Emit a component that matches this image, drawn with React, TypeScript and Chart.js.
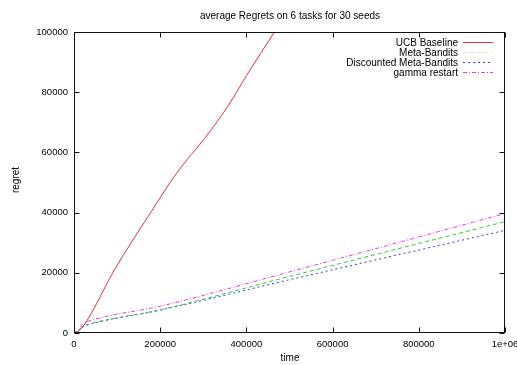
import React, { useEffect, useRef } from "react";
import { Chart, registerables } from "chart.js";

Chart.register(...registerables);

const TITLE = "average Regrets on 6 tasks for 30 seeds";
const X_TITLE = "time";
const Y_TITLE = "regret";

const X_TICKS = [0, 200000, 400000, 600000, 800000, 1000000];
const Y_TICKS = [0, 20000, 40000, 60000, 80000, 100000];

const SERIES_NAMES = ["UCB Baseline", "Meta-Bandits", "Discounted Meta-Bandits", "gamma restart"];

const UCB_T = [0, 10000, 20000, 40000, 90000, 180000, 240000, 305000, 360000, 400000, 465000, 480000];
const UCB_R = [0, 500, 2000, 6500, 20000, 40500, 53500, 65000, 76000, 85500, 100000, 103500];

const META_T = [0, 10000, 20000, 40000, 200000, 500000, 1000000];
const META_R = [0, 800, 2200, 3200, 7700, 18800, 37000];

const DISC_T = [0, 10000, 20000, 40000, 200000, 500000, 1000000];
const DISC_R = [0, 700, 2000, 3000, 7600, 17700, 34100];

const GAMMA_T = [0, 10000, 20000, 40000, 200000, 500000, 1000000];
const GAMMA_R = [0, 1000, 3000, 4200, 8900, 20300, 39700];

const COLORS = ["#e8303a", "#33cc33", "#3a3ae8", "#e040e0"];
const DASHES: number[][] = [[], [4, 3], [2, 3], [4, 2, 1, 2]];

const FONT = '"Liberation Sans", Arial, sans-serif';

function pts(t: number[], r: number[]) {
  return t.map((v, i) => ({ x: v, y: r[i] }));
}

const decoPlugin = {
  id: "deco",
  afterDraw(chart: any) {
    const { ctx, chartArea, scales } = chart;
    const { left, right, top, bottom } = chartArea;
    const x = scales.x;
    const y = scales.y;
    ctx.save();
    ctx.strokeStyle = "#111";
    ctx.lineWidth = 1;
    ctx.setLineDash([]);
    const L = Math.round(left) + 0.5;
    const R = Math.round(right) - 0.5;
    const T = Math.round(top) + 0.5;
    const B = Math.round(bottom) - 0.5;
    ctx.strokeRect(L, T, R - L, B - T);
    const tl = 5;
    ctx.beginPath();
    X_TICKS.forEach((v) => {
      const px = Math.round(x.getPixelForValue(v)) + 0.5;
      ctx.moveTo(px, B);
      ctx.lineTo(px, B - tl);
      ctx.moveTo(px, T);
      ctx.lineTo(px, T + tl);
    });
    Y_TICKS.forEach((v) => {
      const py = Math.round(y.getPixelForValue(v)) + 0.5;
      ctx.moveTo(L, py);
      ctx.lineTo(L + tl, py);
      ctx.moveTo(R, py);
      ctx.lineTo(R - tl, py);
    });
    ctx.stroke();

    ctx.fillStyle = "#000";
    ctx.font = "10px " + FONT;
    ctx.textAlign = "center";
    ctx.textBaseline = "middle";
    ctx.fillText(TITLE, 290, 16);
    ctx.fillText(X_TITLE, 290, 358);
    ctx.save();
    ctx.translate(16, 180);
    ctx.rotate(-Math.PI / 2);
    ctx.fillText(Y_TITLE, 0, 0);
    ctx.restore();

    // legend
    const rows = [43, 53, 63, 73];
    SERIES_NAMES.forEach((name, i) => {
      ctx.fillStyle = "#000";
      ctx.textAlign = "right";
      ctx.fillText(name, 458, rows[i]);
      ctx.strokeStyle = COLORS[i];
      ctx.globalAlpha = i === 1 ? 0.25 : 1;
      ctx.setLineDash(DASHES[i]);
      ctx.beginPath();
      ctx.moveTo(463, rows[i] - 1 + 0.5);
      ctx.lineTo(493, rows[i] - 1 + 0.5);
      ctx.stroke();
      ctx.globalAlpha = 1;
    });
    ctx.restore();
  },
};

export default function App() {
  const ref = useRef<HTMLCanvasElement | null>(null);
  useEffect(() => {
    if (!ref.current) return;
    const data = [pts(UCB_T, UCB_R), pts(META_T, META_R), pts(DISC_T, DISC_R), pts(GAMMA_T, GAMMA_R)];
    const chart = new Chart(ref.current, {
      type: "line",
      data: {
        datasets: SERIES_NAMES.map((name, i) => ({
          label: name,
          data: data[i],
          borderColor: COLORS[i],
          borderWidth: 1,
          borderDash: DASHES[i],
          pointRadius: 0,
          fill: false,
          cubicInterpolationMode: "monotone" as const,
        })),
      },
      options: {
        animation: false,
        responsive: false,
        layout: { padding: { top: 32, right: 12, left: 0, bottom: 0 } },
        plugins: { legend: { display: false }, title: { display: false }, tooltip: { enabled: false } },
        scales: {
          x: {
            type: "linear",
            min: 0,
            max: 1000000,
            grid: { display: false, drawTicks: false },
            border: { display: false },
            ticks: {
              autoSkip: false,
              maxRotation: 0,
              stepSize: 200000,
              padding: 6,
              color: "#000",
              font: { size: 9.5, family: FONT },
              callback: (v: any) => (v === 1000000 ? "1e+06" : String(v)),
            },
            afterFit: (s: any) => {
              s.height = 32;
              s.paddingLeft = 0;
              s.paddingRight = 0;
            },
          },
          y: {
            type: "linear",
            min: 0,
            max: 100000,
            grid: { display: false, drawTicks: false },
            border: { display: false },
            ticks: {
              autoSkip: false,
              stepSize: 20000,
              padding: 6,
              color: "#000",
              font: { size: 9.5, family: FONT },
              callback: (v: any) => String(v),
            },
            afterFit: (s: any) => {
              s.width = 74;
              s.paddingTop = 0;
              s.paddingBottom = 0;
            },
          },
        },
      },
      plugins: [decoPlugin],
    });
    return () => chart.destroy();
  }, []);
  return (
    <div style={{ position: "absolute", left: 0, top: 0, width: 517, height: 365, background: "#fff" }}>
      <canvas ref={ref} width={517} height={365} style={{ display: "block" }} />
    </div>
  );
}
